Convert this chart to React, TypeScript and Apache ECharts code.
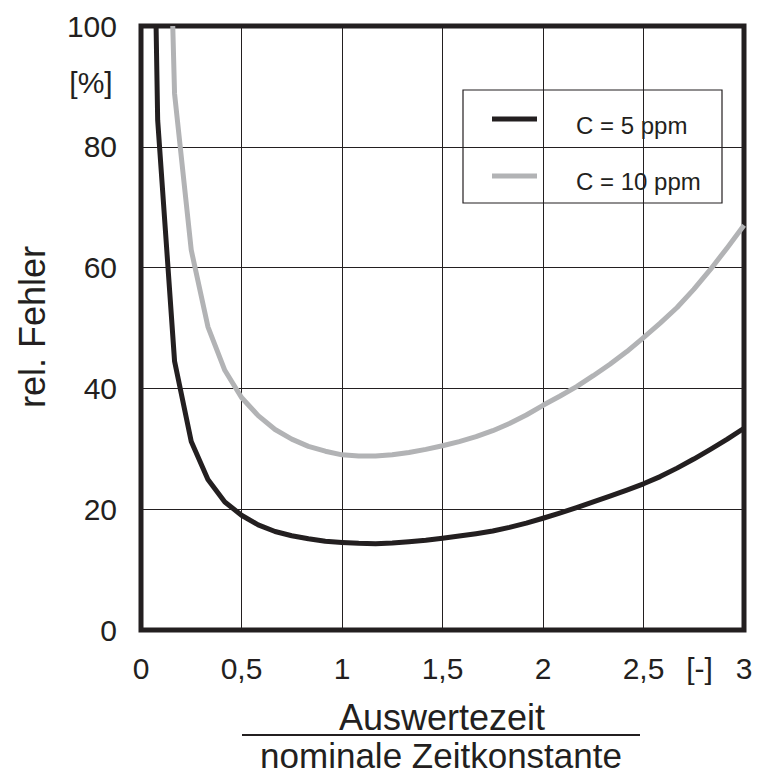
import React, { useEffect, useRef } from "react";
import * as echarts from "echarts";

const seriesNames = ["C = 5 ppm", "C = 10 ppm"];

const xC5 = [0.075, 0.083, 0.167, 0.25, 0.333, 0.417, 0.5, 0.583, 0.667, 0.75, 0.833, 0.917, 1.0, 1.083, 1.167, 1.25, 1.333, 1.417, 1.5, 1.583, 1.667, 1.75, 1.833, 1.917, 2.0, 2.083, 2.167, 2.25, 2.333, 2.417, 2.5, 2.583, 2.667, 2.75, 2.833, 2.917, 3.0];
const yC5 = [100, 84.4, 44.5, 31.2, 24.9, 21.2, 19.0, 17.4, 16.3, 15.6, 15.1, 14.7, 14.5, 14.35, 14.3, 14.4, 14.6, 14.85, 15.2, 15.55, 15.95, 16.4, 17.0, 17.7, 18.5, 19.35, 20.25, 21.2, 22.15, 23.15, 24.2, 25.4, 26.8, 28.3, 29.9, 31.6, 33.4];

const xC10 = [0.158, 0.167, 0.25, 0.333, 0.417, 0.5, 0.583, 0.667, 0.75, 0.833, 0.917, 1.0, 1.083, 1.167, 1.25, 1.333, 1.417, 1.5, 1.583, 1.667, 1.75, 1.833, 1.917, 2.0, 2.083, 2.167, 2.25, 2.333, 2.417, 2.5, 2.583, 2.667, 2.75, 2.833, 2.917, 3.0];
const yC10 = [100, 88.8, 62.9, 50.2, 43.0, 38.5, 35.5, 33.2, 31.6, 30.4, 29.6, 29.0, 28.8, 28.8, 29.0, 29.4, 29.9, 30.5, 31.2, 32.0, 33.0, 34.2, 35.6, 37.2, 38.7, 40.3, 42.1, 44.0, 46.1, 48.4, 50.8, 53.4, 56.4, 59.7, 63.3, 67.0];

const yAxisTitle = "rel. Fehler";
const yUnit = "[%]";
const xUnit = "[-]";
const xTitleTop = "Auswertezeit";
const xTitleBottom = "nominale Zeitkonstante";

const DARK = "#231f20";
const GRAY = "#b2b3b5";
const FONT = "'Liberation Sans', Arial, Helvetica, sans-serif";

export default function App() {
  const ref = useRef<HTMLDivElement>(null);
  useEffect(() => {
    if (!ref.current) return;
    const chart = echarts.init(ref.current, undefined, { renderer: "svg" });
    const pair = (xs: number[], ys: number[]) => xs.map((x, i) => [x, ys[i]]);
    chart.setOption({
      animation: false,
      backgroundColor: "#fff",
      textStyle: { fontFamily: FONT },
      grid: {
        left: 141,
        right: 14,
        top: 26,
        bottom: 145,
        show: true,
        borderWidth: 5,
        borderColor: DARK,
        backgroundColor: "transparent",
      },
      xAxis: {
        type: "value",
        min: 0,
        max: 3,
        interval: 0.5,
        axisLine: { show: false },
        axisTick: { show: false },
        splitLine: { show: true, lineStyle: { color: DARK, width: 1 } },
        axisLabel: {
          fontSize: 30,
          color: DARK,
          fontFamily: FONT,
          margin: 23,
          formatter: (v: number) => String(v).replace(".", ","),
        },
      },
      yAxis: {
        type: "value",
        min: 0,
        max: 100,
        interval: 20,
        axisLine: { show: false },
        axisTick: { show: false },
        splitLine: { show: true, lineStyle: { color: DARK, width: 1 } },
        axisLabel: { fontSize: 30, color: DARK, fontFamily: FONT, margin: 24 },
      },
      series: [
        {
          name: seriesNames[0],
          type: "line",
          data: pair(xC5, yC5),
          symbol: "none",
          showSymbol: false,
          clip: true,
          lineStyle: { color: DARK, width: 5, join: "round" },
          z: 5,
        },
        {
          name: seriesNames[1],
          type: "line",
          data: pair(xC10, yC10),
          symbol: "none",
          showSymbol: false,
          clip: true,
          lineStyle: { color: GRAY, width: 5, join: "round" },
          z: 4,
        },
      ],
      graphic: [
        {
          type: "text",
          x: 32,
          y: 327,
          rotation: Math.PI / 2,
          style: { text: yAxisTitle, fontSize: 36, fill: DARK, fontFamily: FONT, align: "center", verticalAlign: "middle" },
        },
        {
          type: "text",
          x: 91,
          y: 82,
          style: { text: yUnit, fontSize: 30, fill: DARK, fontFamily: FONT, align: "center", verticalAlign: "middle" },
        },
        {
          type: "text",
          x: 699.5,
          y: 668,
          style: { text: xUnit, fontSize: 30, fill: DARK, fontFamily: FONT, align: "center", verticalAlign: "middle" },
        },
        {
          type: "text",
          x: 442,
          y: 717,
          style: { text: xTitleTop, fontSize: 36, fill: DARK, fontFamily: FONT, align: "center", verticalAlign: "middle" },
        },
        {
          type: "line",
          shape: { x1: 242, y1: 735, x2: 640, y2: 735 },
          style: { stroke: DARK, lineWidth: 2 },
        },
        {
          type: "text",
          x: 441,
          y: 755,
          style: { text: xTitleBottom, fontSize: 35, fill: DARK, fontFamily: FONT, align: "center", verticalAlign: "middle" },
        },
        {
          type: "group",
          z: 100,
          children: [
            {
              type: "rect",
              shape: { x: 463, y: 90, width: 259, height: 113 },
              style: { fill: "#fff", stroke: DARK, lineWidth: 1.2 },
            },
            {
              type: "line",
              shape: { x1: 492, y1: 119, x2: 537, y2: 119 },
              style: { stroke: DARK, lineWidth: 5 },
            },
            {
              type: "line",
              shape: { x1: 492, y1: 176, x2: 537, y2: 176 },
              style: { stroke: GRAY, lineWidth: 5 },
            },
            {
              type: "text",
              x: 576,
              y: 125,
              style: { text: seriesNames[0], fontSize: 24, fill: DARK, fontFamily: FONT, align: "left", verticalAlign: "middle" },
            },
            {
              type: "text",
              x: 576,
              y: 181,
              style: { text: seriesNames[1], fontSize: 24, fill: DARK, fontFamily: FONT, align: "left", verticalAlign: "middle" },
            },
          ],
        },
      ],
    });
    return () => chart.dispose();
  }, []);
  return (
    <div
      ref={ref}
      style={{ position: "fixed", left: 0, top: 0, width: 758, height: 775, background: "#fff" }}
    />
  );
}
